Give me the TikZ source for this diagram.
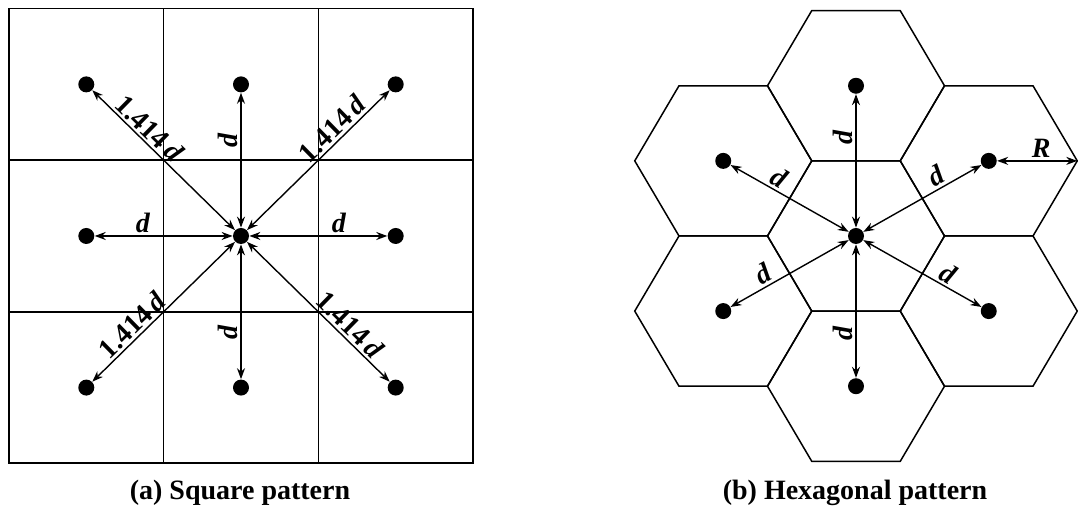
\documentclass[tikz,border=0pt]{standalone}
\usepackage{fontspec}
\setmainfont{Liberation Serif}
\usepackage{tikz}
\usetikzlibrary{arrows.meta}

\tikzset{
  dot/.style={circle,fill=black,inner sep=0pt,minimum size=8pt},
  dist/.style={{Stealth[length=5.5pt,width=4pt]}-{Stealth[length=5.5pt,width=4pt]},line width=0.7pt},
  lbl/.style={font=\fontsize{14}{16}\selectfont\bfseries,inner sep=1.2pt,sloped,above},
  cell/.style={line width=0.75pt},
  caption/.style={font=\fontsize{14}{16}\selectfont\bfseries},
}
\newcommand{\dd}{\textit{d}}

\begin{document}
\begin{tikzpicture}[x=0.5pt,y=0.49pt]
\useasboundingbox (0,0) rectangle (1078,523.5);

% (a) square pattern
\draw[cell,line width=0.9pt] (8.95,50.65) rectangle (473.05,514.75);
\draw[cell] (163.65,50.65)--(163.65,514.75)
(318.35,50.65)--(318.35,514.75)
(8.95,205.35)--(473.05,205.35)
(8.95,360.05)--(473.05,360.05);

\node[dot] (sq-c) at (241,282.7) {};
\node[dot] (sq-n) at (241,437.4) {};
\node[dot] (sq-s) at (241,128) {};
\node[dot] (sq-w) at (86.3,282.7) {};
\node[dot] (sq-e) at (395.7,282.7) {};
\node[dot] (sq-nw) at (86.3,437.4) {};
\node[dot] (sq-ne) at (395.7,437.4) {};
\node[dot] (sq-sw) at (86.3,128) {};
\node[dot] (sq-se) at (395.7,128) {};

\draw[dist] (sq-nw) -- node[lbl,pos=.34]{1.414\,\dd} (sq-c);
\draw[dist] (sq-ne) -- node[lbl,pos=.34]{1.414\,\dd} (sq-c);
\draw[dist] (sq-sw) -- node[lbl,pos=.34]{1.414\,\dd} (sq-c);
\draw[dist] (sq-se) -- node[lbl,pos=.34]{1.414\,\dd} (sq-c);
\draw[dist] (sq-w) -- node[lbl,pos=.35]{\dd} (sq-c);
\draw[dist] (sq-e) -- node[lbl,pos=.35]{\dd} (sq-c);
\draw[dist] (sq-c) -- node[lbl,pos=.65]{\dd} (sq-n);
\draw[dist] (sq-s) -- node[lbl,pos=.35]{\dd} (sq-c);

% (b) hexagonal pattern
\foreach \a/\r in {0/0,30/153.29,90/153.29,150/153.29,210/153.29,270/153.29,330/153.29}
  \draw[cell,shift={(\a:\r)}] (856,282.7) +(0:88.5) -- +(60:88.5) -- +(120:88.5)
    -- +(180:88.5) -- +(240:88.5) -- +(300:88.5) -- cycle;

\node[dot] (hx-c) at (856,282.7) {};
\node[dot] (hx-n) at (856,435.99) {};
\node[dot] (hx-s) at (856,129.41) {};
\node[dot] (hx-ne) at (988.75,359.34) {};
\node[dot] (hx-se) at (988.75,206.06) {};
\node[dot] (hx-sw) at (723.25,206.06) {};
\node[dot] (hx-nw) at (723.25,359.34) {};
\coordinate (hx-rv) at (1077.25,359.34);

\draw[dist] (hx-nw) -- node[lbl,pos=.36]{\dd} (hx-c);
\draw[dist] (hx-ne) -- node[lbl,pos=.33]{\dd} (hx-c);
\draw[dist] (hx-sw) -- node[lbl,pos=.33]{\dd} (hx-c);
\draw[dist] (hx-se) -- node[lbl,pos=.33]{\dd} (hx-c);
\draw[dist] (hx-c) -- node[lbl,pos=.68]{\dd} (hx-n);
\draw[dist] (hx-s) -- node[lbl,pos=.33]{\dd} (hx-c);
\draw[dist] (hx-ne) -- node[lbl,pos=.55]{\textit{R}} (hx-rv);

\node[caption] (cap-a) at (240,20.4) {(a) Square pattern};
\node[caption] (cap-b) at (855,20.4) {(b) Hexagonal pattern};
\end{tikzpicture}
\end{document}
